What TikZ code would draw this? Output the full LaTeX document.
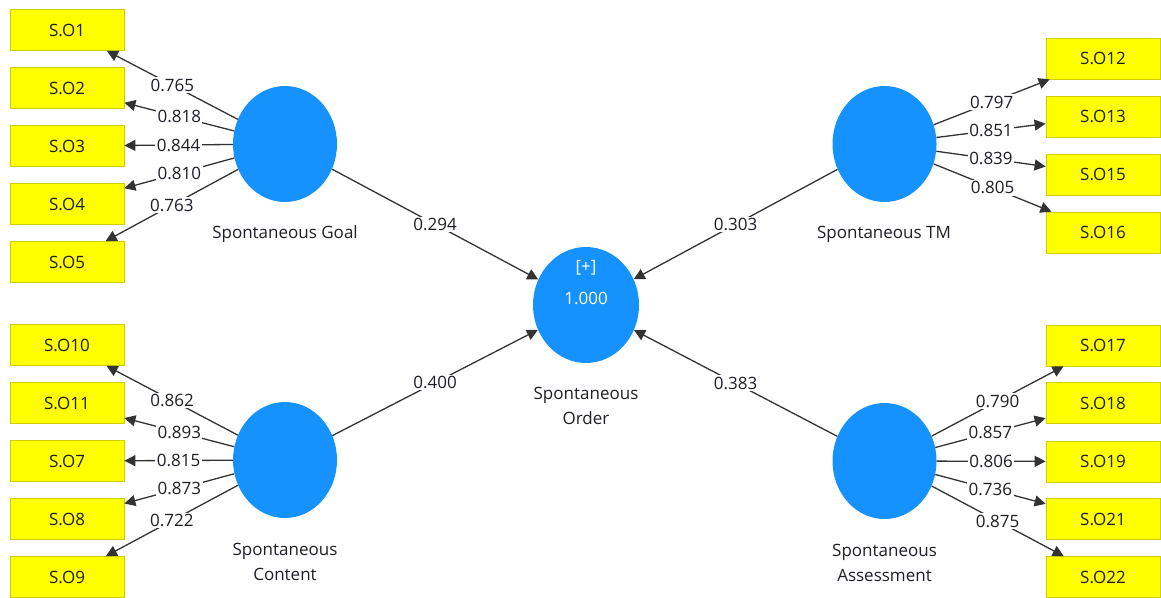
\documentclass[tikz,border=0pt]{standalone}
\usepackage{fontspec}
\setmainfont{Open Sans}
\usetikzlibrary{shapes.geometric,arrows.meta}
\definecolor{lvblue}{RGB}{22,146,255}
\definecolor{mvyellow}{RGB}{255,255,0}
\definecolor{mvborder}{RGB}{205,205,0}
\definecolor{txt}{RGB}{30,30,40}
\begin{document}
\begin{tikzpicture}[x=1pt,y=-1pt,
  lv/.style={ellipse, fill=lvblue, draw=none, minimum width=104pt, minimum height=116pt, inner sep=0pt},
  mv/.style={rectangle, fill=mvyellow, draw=mvborder, line width=0.8pt, minimum width=114pt, minimum height=41pt, inner sep=0pt, font=\fontsize{17}{20}\selectfont, text=txt},
  ld/.style={draw=black!80, line width=1.3pt, -{Triangle[length=11pt,width=11pt]}},
  val/.style={fill=white, inner sep=1.5pt, font=\fontsize{17}{20}\selectfont, text=txt, pos=0.5},
  captxt/.style={font=\fontsize{17}{25}\selectfont, text=txt, align=center},
  inn/.style={font=\fontsize{17}{20}\selectfont, text=white}
]
\useasboundingbox (0,0) rectangle (1161,597);
% latent variables
\node[lv] (goal) at (285,144) {};
\node[lv] (tm) at (884.5,144) {};
\node[lv] (cont) at (285,460) {};
\node[lv] (assess) at (884.5,461) {};
\node[lv, minimum width=106pt] (order) at (586,305) {};
% indicators
\node[mv] (so1) at (67,30) {S.O1};
\node[mv] (so2) at (67,88) {S.O2};
\node[mv] (so3) at (67,146) {S.O3};
\node[mv] (so4) at (67,204) {S.O4};
\node[mv] (so5) at (67,262) {S.O5};
\node[mv] (so12) at (1103,58.5) {S.O12};
\node[mv] (so13) at (1103,116.5) {S.O13};
\node[mv] (so15) at (1103,174.5) {S.O15};
\node[mv] (so16) at (1103,232.5) {S.O16};
\node[mv] (so10) at (67,345) {S.O10};
\node[mv] (so11) at (67,403) {S.O11};
\node[mv] (so7) at (67,461) {S.O7};
\node[mv] (so8) at (67,519) {S.O8};
\node[mv] (so9) at (67,577) {S.O9};
\node[mv] (so17) at (1103,345.5) {S.O17};
\node[mv] (so18) at (1103,403) {S.O18};
\node[mv] (so19) at (1103,461.5) {S.O19};
\node[mv] (so21) at (1103,519) {S.O21};
\node[mv] (so22) at (1103,577) {S.O22};
% loadings
\draw[ld] (goal) -- node[val]{0.765} (so1);
\draw[ld] (goal) -- node[val]{0.818} (so2);
\draw[ld] (goal) -- node[val]{0.844} (so3);
\draw[ld] (goal) -- node[val]{0.810} (so4);
\draw[ld] (goal) -- node[val]{0.763} (so5);
\draw[ld] (tm) -- node[val]{0.797} (so12);
\draw[ld] (tm) -- node[val]{0.851} (so13);
\draw[ld] (tm) -- node[val]{0.839} (so15);
\draw[ld] (tm) -- node[val]{0.805} (so16);
\draw[ld] (cont) -- node[val]{0.862} (so10);
\draw[ld] (cont) -- node[val]{0.893} (so11);
\draw[ld] (cont) -- node[val]{0.815} (so7);
\draw[ld] (cont) -- node[val]{0.873} (so8);
\draw[ld] (cont) -- node[val]{0.722} (so9);
\draw[ld] (assess) -- node[val]{0.790} (so17);
\draw[ld] (assess) -- node[val]{0.857} (so18);
\draw[ld] (assess) -- node[val]{0.806} (so19);
\draw[ld] (assess) -- node[val]{0.736} (so21);
\draw[ld] (assess) -- node[val]{0.875} (so22);
% paths
\draw[ld] (goal) -- node[val]{0.294} (order);
\draw[ld] (tm) -- node[val]{0.303} (order);
\draw[ld] (cont) -- node[val]{0.400} (order);
\draw[ld] (assess) -- node[val]{0.383} (order);
% captions
\node[captxt] (capgoal) at (285,234) {Spontaneous Goal};
\node[captxt] (captm) at (884,234) {Spontaneous TM};
\node[captxt] (capcont) at (285,561.5) {Spontaneous\\Content};
\node[captxt] (capass) at (884.5,562.5) {Spontaneous\\Assessment};
\node[captxt] (caporder) at (586,405.5) {Spontaneous\\Order};
\node[inn] (plus) at (586,268) {[+]};
\node[inn] (rsq) at (586,298) {1.000};
\end{tikzpicture}
\end{document}
